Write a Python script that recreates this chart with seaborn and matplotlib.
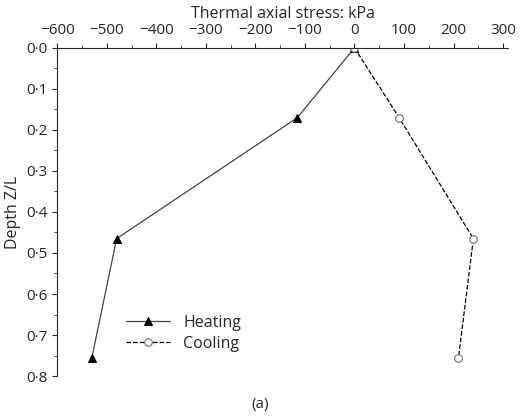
import matplotlib
matplotlib.use("Agg")
import matplotlib.pyplot as plt
import seaborn as sns
import pandas as pd
from matplotlib.ticker import MultipleLocator, FuncFormatter

sns.set_style("ticks")
plt.rcParams['font.family'] = ['Open Sans', 'DejaVu Sans']

depth = [0.0, 0.17, 0.465, 0.755]
heating = [0, -115, -480, -530]
cooling = [0, 90, 240, 210]

df = pd.DataFrame({"depth": depth * 2, "stress": heating + cooling,
                   "case": ["Heating"] * 4 + ["Cooling"] * 4})

fig = plt.figure(figsize=(5.2, 4.16), dpi=100)
ax = fig.add_axes([0.11, 0.096, 0.867, 0.789])
sns.lineplot(data=df[df.case == "Heating"], x="stress", y="depth", sort=False,
             color="#444444", lw=0.9, marker="^", markersize=6, mfc="black", mec="black",
             ax=ax, label="Heating", estimator=None)
sns.lineplot(data=df[df.case == "Cooling"], x="stress", y="depth", sort=False,
             color="black", lw=0.9, ls="--", marker="o", markersize=5.5, mfc="white",
             mec="#666666", ax=ax, label="Cooling", estimator=None)
ax.set_xlim(-600, 310)
ax.set_ylim(0.8, 0)
ax.xaxis.tick_top()
ax.xaxis.set_label_position("top")
ax.set_xticks(range(-600, 301, 100))
ax.xaxis.set_minor_locator(MultipleLocator(50))
ax.yaxis.set_major_locator(MultipleLocator(0.1))
ax.yaxis.set_minor_locator(MultipleLocator(0.05))
ax.yaxis.set_major_formatter(FuncFormatter(lambda v, p: f"{v:.1f}".replace(".", "·")))
ax.tick_params(which="both", direction="out", labelsize=11)
ax.tick_params(which="minor", length=2.5)
ax.set_xlabel("Thermal axial stress: kPa", fontsize=11.5)
ax.set_ylabel("Depth Z/L", fontsize=11.5)
for s in ["right", "bottom"]:
    ax.spines[s].set_visible(False)
ax.legend(loc="lower left", bbox_to_anchor=(0.12, 0.03), frameon=False, fontsize=11.5,
          handlelength=2.8, labelspacing=0.3)
fig.text(0.5, 0.02, "(a)", ha="center", fontsize=11)
fig.savefig("out.png", dpi=100)
